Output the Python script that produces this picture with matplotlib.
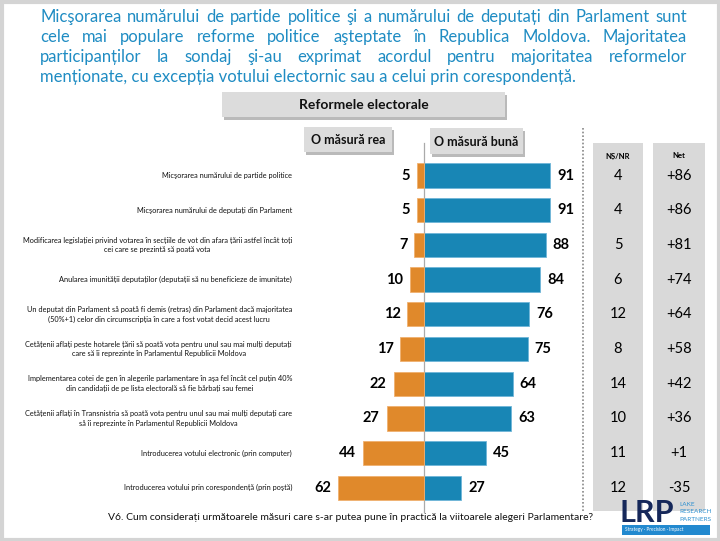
import numpy as np
import matplotlib
matplotlib.use('Agg')
import matplotlib.pyplot as plt
from matplotlib.patches import Rectangle

# data
categories = [
    "Micşorarea numărului de partide politice",
    "Micşorarea numărului de deputați din Parlament",
    "Modificarea legislației privind votarea în secțiile de vot din afara țării astfel încât toți\ncei care se prezintă să poată vota",
    "Anularea imunității deputaților (deputații să nu beneficieze de imunitate)",
    "Un deputat din Parlament să poată fi demis (retras) din Parlament dacă majoritatea\n(50%+1) celor din circumscripția în care a fost votat decid acest lucru",
    "Cetățenii aflați peste hotarele țării să poată vota pentru unul sau mai mulți deputați\ncare să îi reprezinte în Parlamentul Republicii Moldova",
    "Implementarea cotei de gen în alegerile parlamentare în aşa fel încât cel puțin 40%\ndin candidații de pe lista electorală să fie bărbați sau femei",
    "Cetățenii aflați în Transnistria să poată vota pentru unul sau mai mulți deputați care\nsă îi reprezinte în Parlamentul Republicii Moldova",
    "Introducerea votului electronic (prin computer)",
    "Introducerea votului prin corespondență (prin poştă)",
]
bad = [5, 5, 7, 10, 12, 17, 22, 27, 44, 62]
good = [91, 91, 88, 84, 76, 75, 64, 63, 45, 27]
dk_nr = [4, 4, 5, 6, 12, 8, 14, 10, 11, 12]
net = ['+86', '+86', '+81', '+74', '+64', '+58', '+42', '+36', '+1', '-35']

title_lines = [
    "Micşorarea numărului de partide politice şi a numărului de deputați din Parlament sunt",
    "cele mai populare reforme politice aşteptate în Republica Moldova. Majoritatea",
    "participanților la sondaj şi-au exprimat acordul pentru majoritatea reformelor",
    "menționate, cu excepția votului electornic sau a celui prin corespondență.",
]
footer = "V6. Cum considerați următoarele măsuri care s-ar putea pune în practică la viitoarele alegeri Parlamentare?"

FONT = ['Lato', 'DejaVu Sans']
plt.rcParams['font.family'] = FONT

BLUE = '#1886b5'
ORANGE = '#e0892b'
TITLE_BLUE = '#1f8cc3'
GREY_BOX = '#d9d9d9'

fig = plt.figure(figsize=(7.2, 5.41), dpi=100)
fig.patch.set_facecolor('white')

# background axes in pixel coordinates for all the slide furniture
bg = fig.add_axes([0, 0, 1, 1])
bg.set_xlim(0, 720)
bg.set_ylim(541, 0)
bg.axis('off')

# slide frame
bg.add_patch(Rectangle((1.5, 1.5), 717, 538, fill=False, edgecolor='#d4d4d4', linewidth=3))

# justified title
renderer = fig.canvas.get_renderer()
x0, x1 = 40, 687
baselines = [21.7, 41.7, 61.7, 81.7]
for i, line in enumerate(title_lines):
    if i == len(title_lines) - 1:
        bg.text(x0, baselines[i], line, fontsize=12, color=TITLE_BLUE, va='baseline', ha='left')
        continue
    words = line.split()
    texts = [bg.text(0, baselines[i], w, fontsize=12, color=TITLE_BLUE, va='baseline', ha='left')
             for w in words]
    widths = [t.get_window_extent(renderer).width for t in texts]
    gap = (x1 - x0 - sum(widths)) / (len(words) - 1)
    x = x0
    for t, w in zip(texts, widths):
        t.set_x(x)
        x += w + gap


def header_box(xa, xb, ya, yb, label, size):
    bg.add_patch(Rectangle((xa + 2, ya + 3), xb - xa, yb - ya, facecolor='#8c8c8c', alpha=0.6, edgecolor='none'))
    bg.add_patch(Rectangle((xa, ya), xb - xa, yb - ya, facecolor='#dcdcdc', edgecolor='none'))
    bg.text((xa + xb) / 2, (ya + yb) / 2 + 0.5, label, fontsize=size, fontweight='bold',
            ha='center', va='center', color='#111111')


header_box(222, 505, 92, 117, "Reformele electorale", 10)
header_box(304, 392, 127, 152, "O măsură rea", 9)
header_box(430, 523, 128, 154, "O măsură bună", 9)

# grey columns on the right
bg.add_patch(Rectangle((593, 143), 50, 368, facecolor=GREY_BOX, edgecolor='none'))
bg.add_patch(Rectangle((653, 143), 52, 368, facecolor=GREY_BOX, edgecolor='none'))
bg.text(618, 156, "NȘ/NR", fontsize=5.5, fontweight='bold', ha='center', va='center')
bg.text(679, 156, "Net", fontsize=5.5, fontweight='bold', ha='center', va='center')

# dotted separator and centre line
bg.plot([583, 583], [128, 512], color='#888888', linestyle=(0, (1, 1.2)), linewidth=1.2)
bg.plot([424, 424], [143, 512], color='#aaaaaa', linewidth=0.9)

# footer question
bg.text(108, 518, footer, fontsize=7.45, ha='left', va='center', color='#111111')

# LRP logo
bg.text(620, 521.5, "LRP", fontsize=22, fontweight='bold', color='#16285a', ha='left', va='baseline')
for k, w in enumerate(["LAKE", "RESEARCH", "PARTNERS"]):
    bg.text(679, 504 + 7.6 * k, w, fontsize=4.6, color='#2b8fd0', ha='left', va='center')
bg.add_patch(Rectangle((622, 524.5), 88, 10, facecolor='#2289cf', edgecolor='none'))
bg.text(625, 529.5, "Strategy · Precision · Impact", fontsize=3.4, color='white', ha='left', va='center')

# bar chart axes: 0 at x=424px, 1.385 px per point, rows 34.7 px apart
s = 126 / 91
row0, step = 175.5, 34.7
top_px = row0 - step / 2
bot_px = row0 + step * 9.5
left_px, right_px = 330, 580
ax = fig.add_axes([left_px / 720, 1 - bot_px / 541, (right_px - left_px) / 720, (bot_px - top_px) / 541])
ax.set_xlim((left_px - 424) / s, (right_px - 424) / s)
ax.set_ylim(len(categories) - 0.5, -0.5)
ax.axis('off')
ax.patch.set_alpha(0)

y = np.arange(len(categories))
ax.barh(y, good, height=0.7, color=BLUE, edgecolor='#6fb6d8', linewidth=0.6)
ax.barh(y, [-b for b in bad], height=0.7, color=ORANGE, edgecolor='#f0b070', linewidth=0.6)

for i in range(len(categories)):
    ax.annotate(str(good[i]), (good[i], i), xytext=(5, 0), textcoords='offset points',
                ha='left', va='center', fontsize=10.5, fontweight='bold')
    ax.annotate(str(bad[i]), (-bad[i], i), xytext=(-5, 0), textcoords='offset points',
                ha='right', va='center', fontsize=10.5, fontweight='bold')
    ax.text((292 - 424) / s, i, categories[i], ha='right', va='center', multialignment='center',
            fontsize=5.3, linespacing=1.4, color='#111111')
    ax.text((618 - 424) / s, i, str(dk_nr[i]), ha='center', va='center', fontsize=10.5)
    ax.text((679 - 424) / s, i, net[i], ha='center', va='center', fontsize=10.5)

fig.savefig('out.png', dpi=100)
